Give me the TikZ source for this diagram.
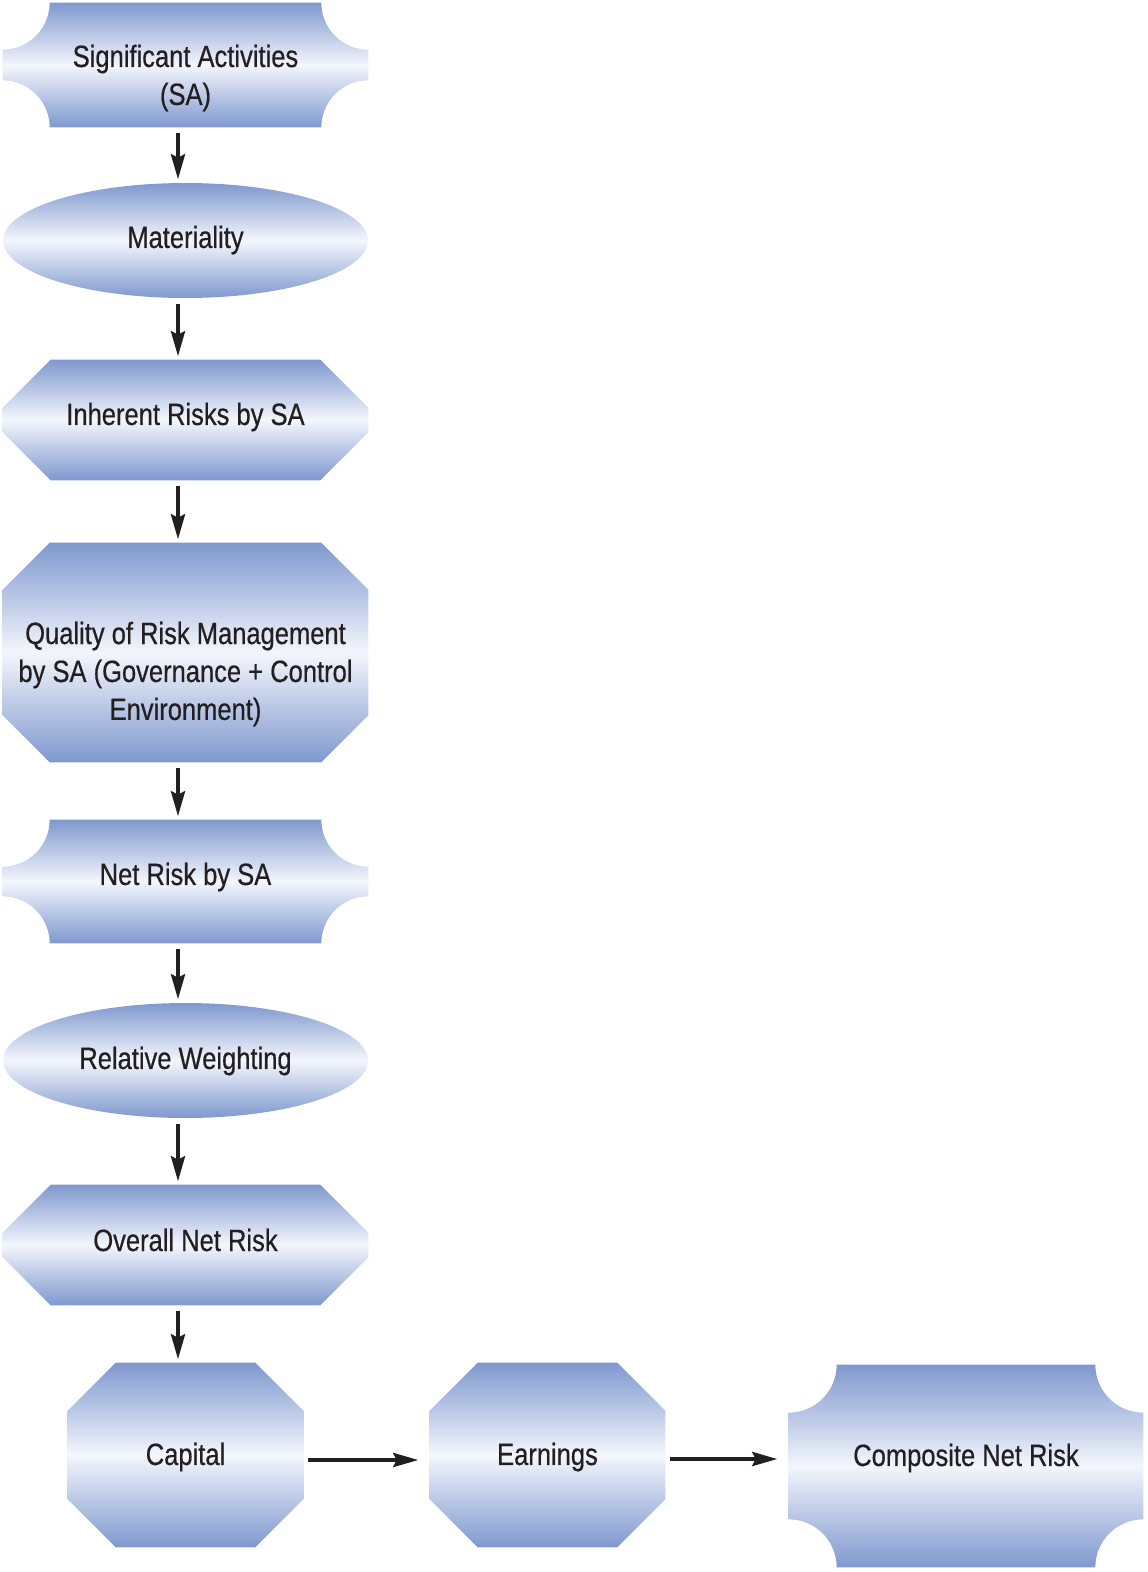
\documentclass[tikz,border=0pt]{standalone}
\usepackage{fontspec}
\setmainfont{Liberation Sans}[FakeStretch=0.83,FakeBold=0.5]
\usetikzlibrary{arrows.meta,shapes.geometric}
\definecolor{edgeblue}{RGB}{127,152,206}
\definecolor{midwhite}{RGB}{243,246,252}
\definecolor{ink}{RGB}{35,31,32}
\tikzset{
  fillshade/.style={top color=edgeblue,bottom color=edgeblue,middle color=midwhite},
  holder/.style={inner sep=0pt,minimum width=#1},
  ovalbox/.style={ellipse,inner sep=0pt,minimum width=7.3cm,minimum height=2.3cm,fillshade},
  label text/.style={text=ink,align=center,font=\fontsize{17.5}{21.6}\selectfont},
  flow/.style={draw=ink,line width=2.8pt,-{Stealth[length=0.5cm,width=0.27cm,inset=0.06cm]},shorten <=0.12cm,shorten >=0.06cm},
  hflow/.style={flow,shorten <=0.1cm,shorten >=0.22cm}
}
\newcommand{\concaveshape}[2]{%
  \shade[fillshade] ([xshift=#2]#1.north west) -- ([xshift=-#2]#1.north east)
    arc[start angle=180,end angle=270,radius=#2] -- ([yshift=#2]#1.south east)
    arc[start angle=90,end angle=180,radius=#2] -- ([xshift=#2]#1.south west)
    arc[start angle=0,end angle=90,radius=#2] -- ([yshift=-#2]#1.north west)
    arc[start angle=270,end angle=360,radius=#2] -- cycle;}
\newcommand{\chamfershape}[2]{%
  \shade[fillshade] ([xshift=#2]#1.north west) -- ([xshift=-#2]#1.north east)
    -- ([yshift=-#2]#1.north east) -- ([yshift=#2]#1.south east)
    -- ([xshift=-#2]#1.south east) -- ([xshift=#2]#1.south west)
    -- ([yshift=#2]#1.south west) -- ([yshift=-#2]#1.north west) -- cycle;}
\begin{document}
\begin{tikzpicture}[x=0.02cm,y=0.02cm]
\useasboundingbox (0,0) rectangle (1147,-1572);
% shape holders
\node[holder=7.3cm,minimum height=2.48cm] (sa) at (185.5,-65) {};
\node[ovalbox] (mat) at (185.5,-240.5) {};
\node[holder=7.3cm,minimum height=2.4cm] (inh) at (185.5,-420) {};
\node[holder=7.3cm,minimum height=4.38cm] (qual) at (185.5,-652.5) {};
\node[holder=7.3cm,minimum height=2.46cm] (net) at (185.5,-881.5) {};
\node[ovalbox] (rel) at (185.5,-1060.5) {};
\node[holder=7.3cm,minimum height=2.4cm] (ovr) at (185.5,-1245) {};
\node[holder=4.7cm,minimum height=3.68cm] (cap) at (185.5,-1455) {};
\node[holder=4.7cm,minimum height=3.68cm] (earn) at (547.5,-1455) {};
\node[holder=7.08cm,minimum height=4.04cm] (comp) at (966,-1466) {};
% shapes
\concaveshape{sa}{0.94cm}
\chamfershape{inh}{0.96cm}
\chamfershape{qual}{0.94cm}
\concaveshape{net}{0.94cm}
\chamfershape{ovr}{0.96cm}
\chamfershape{cap}{0.96cm}
\chamfershape{earn}{0.96cm}
\concaveshape{comp}{0.96cm}
% texts
\node[label text] (tsa) at (185.5,-78) {Significant Activities\\(SA)};
\node[label text] (tmat) at (185.5,-240) {Materiality};
\node[label text] (tinh) at (185.5,-417) {Inherent Risks by SA};
\node[label text] (tqual) at (185.5,-674) {Quality of Risk Management\\by SA (Governance + Control\\Environment)};
\node[label text] (tnet) at (185.5,-877) {Net Risk by SA};
\node[label text] (trel) at (185.5,-1061) {Relative Weighting};
\node[label text] (tovr) at (185.5,-1240) {Overall Net Risk};
\node[label text] (tcap) at (185.5,-1457) {Capital};
\node[label text] (tearn) at (547.5,-1457) {Earnings};
\node[label text] (tcomp) at (966,-1458) {Composite Net Risk};
% connectors
\path (earn.east -| comp.west) coordinate (compin);
\draw[flow] ([xshift=-0.15cm]sa.south) -- ([xshift=-0.15cm]mat.north);
\draw[flow] ([xshift=-0.15cm]mat.south) -- ([xshift=-0.15cm]inh.north);
\draw[flow] ([xshift=-0.15cm]inh.south) -- ([xshift=-0.15cm]qual.north);
\draw[flow] ([xshift=-0.15cm]qual.south) -- ([xshift=-0.15cm]net.north);
\draw[flow] ([xshift=-0.15cm]net.south) -- ([xshift=-0.15cm]rel.north);
\draw[flow] ([xshift=-0.15cm]rel.south) -- ([xshift=-0.15cm]ovr.north);
\draw[flow] ([xshift=-0.15cm]ovr.south) -- ([xshift=-0.15cm]cap.north);
\draw[hflow] ([yshift=-0.1cm]cap.east) -- ([yshift=-0.1cm]earn.west);
\draw[hflow] ([yshift=-0.08cm]earn.east) -- ([yshift=-0.08cm]compin);
\end{tikzpicture}
\end{document}
